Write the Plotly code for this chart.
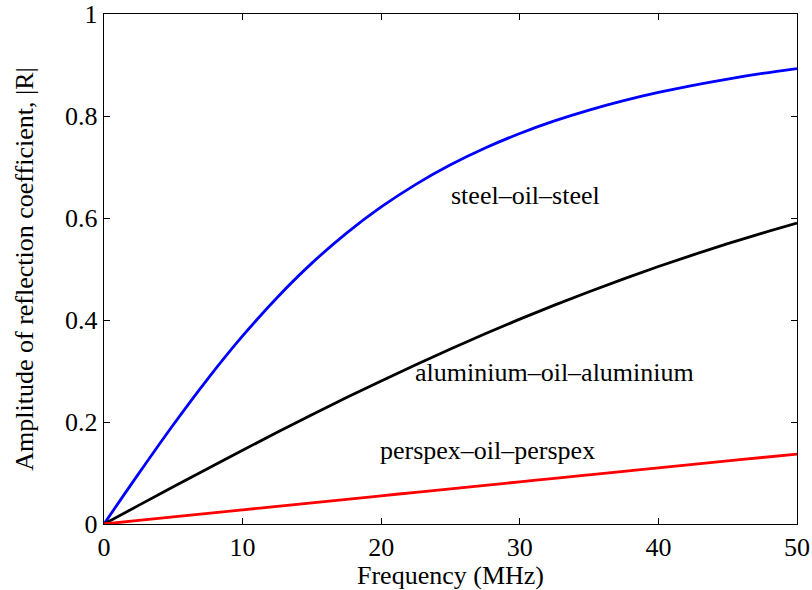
import plotly.graph_objects as go

freq = [0, 2.5, 5, 7.5, 10, 12.5, 15, 17.5, 20, 22.5, 25, 27.5, 30, 32.5, 35,
        37.5, 40, 42.5, 45, 47.5, 50]
steel = [0, 0.0987, 0.1946, 0.2852, 0.3688, 0.4443, 0.5115, 0.5704, 0.6217,
         0.6660, 0.7043, 0.7373, 0.7657, 0.7903, 0.8115, 0.8300, 0.8461,
         0.8602, 0.8725, 0.8834, 0.8930]
aluminium = [0, 0.0365, 0.0729, 0.1090, 0.1447, 0.1797, 0.2142, 0.2478,
             0.2806, 0.3124, 0.3433, 0.3730, 0.4017, 0.4291, 0.4555, 0.4807,
             0.5048, 0.5277, 0.5496, 0.5704, 0.5901]
perspex = [0, 0.0069, 0.0139, 0.0208, 0.0277, 0.0346, 0.0415, 0.0484, 0.0553,
           0.0622, 0.0690, 0.0759, 0.0827, 0.0896, 0.0964, 0.1032, 0.1100,
           0.1168, 0.1236, 0.1304, 0.1372]

labels = ["steel–oil–steel", "aluminium–oil–aluminium", "perspex–oil–perspex"]
label_x = [30.4, 32.5, 27.7]
label_y = [0.645, 0.298, 0.145]

x_ticks = [0, 10, 20, 30, 40, 50]
y_ticks = [0, 0.2, 0.4, 0.6, 0.8, 1]

FONT = "Liberation Serif, Times New Roman, serif"

fig = go.Figure()
for ys, col in [(steel, "#0000ff"), (aluminium, "#000000"), (perspex, "#ff0000")]:
    fig.add_trace(go.Scatter(x=freq, y=ys, mode="lines",
                             line=dict(color=col, width=2.8, shape="spline"),
                             showlegend=False, hoverinfo="skip"))

for t, xx, yy in zip(labels, label_x, label_y):
    fig.add_annotation(x=xx, y=yy, text=t, showarrow=False,
                       xanchor="center", yanchor="middle",
                       font=dict(family=FONT, size=26, color="black"))

axis_common = dict(showline=True, linecolor="black", linewidth=1.2,
                   mirror="ticks", ticks="inside", ticklen=6, tickwidth=1,
                   tickcolor="black", showgrid=False, zeroline=False,
                   automargin=False,
                   tickfont=dict(family=FONT, size=26, color="black"))

fig.update_layout(
    width=812, height=590,
    margin=dict(l=104, r=15, t=14, b=66),
    paper_bgcolor="white", plot_bgcolor="white",
    font=dict(family=FONT, size=26, color="black"),
    xaxis=dict(range=[0, 50], tickvals=x_ticks,
               ticktext=[str(v) for v in x_ticks],
               title=dict(text="Frequency (MHz)", standoff=0,
                          font=dict(family=FONT, size=26)),
               **axis_common),
    yaxis=dict(range=[0, 1], tickvals=y_ticks,
               ticktext=["0", "0.2", "0.4", "0.6", "0.8", "1"],
               title=dict(text="Amplitude of reflection coefficient, |R|",
                          standoff=24, font=dict(family=FONT, size=26)),
               **axis_common),
)

fig.write_html("out.html",
               config={"displayModeBar": False, "staticPlot": True},
               post_script="document.body.style.margin='0';"
                           "document.body.style.overflow='hidden';")
